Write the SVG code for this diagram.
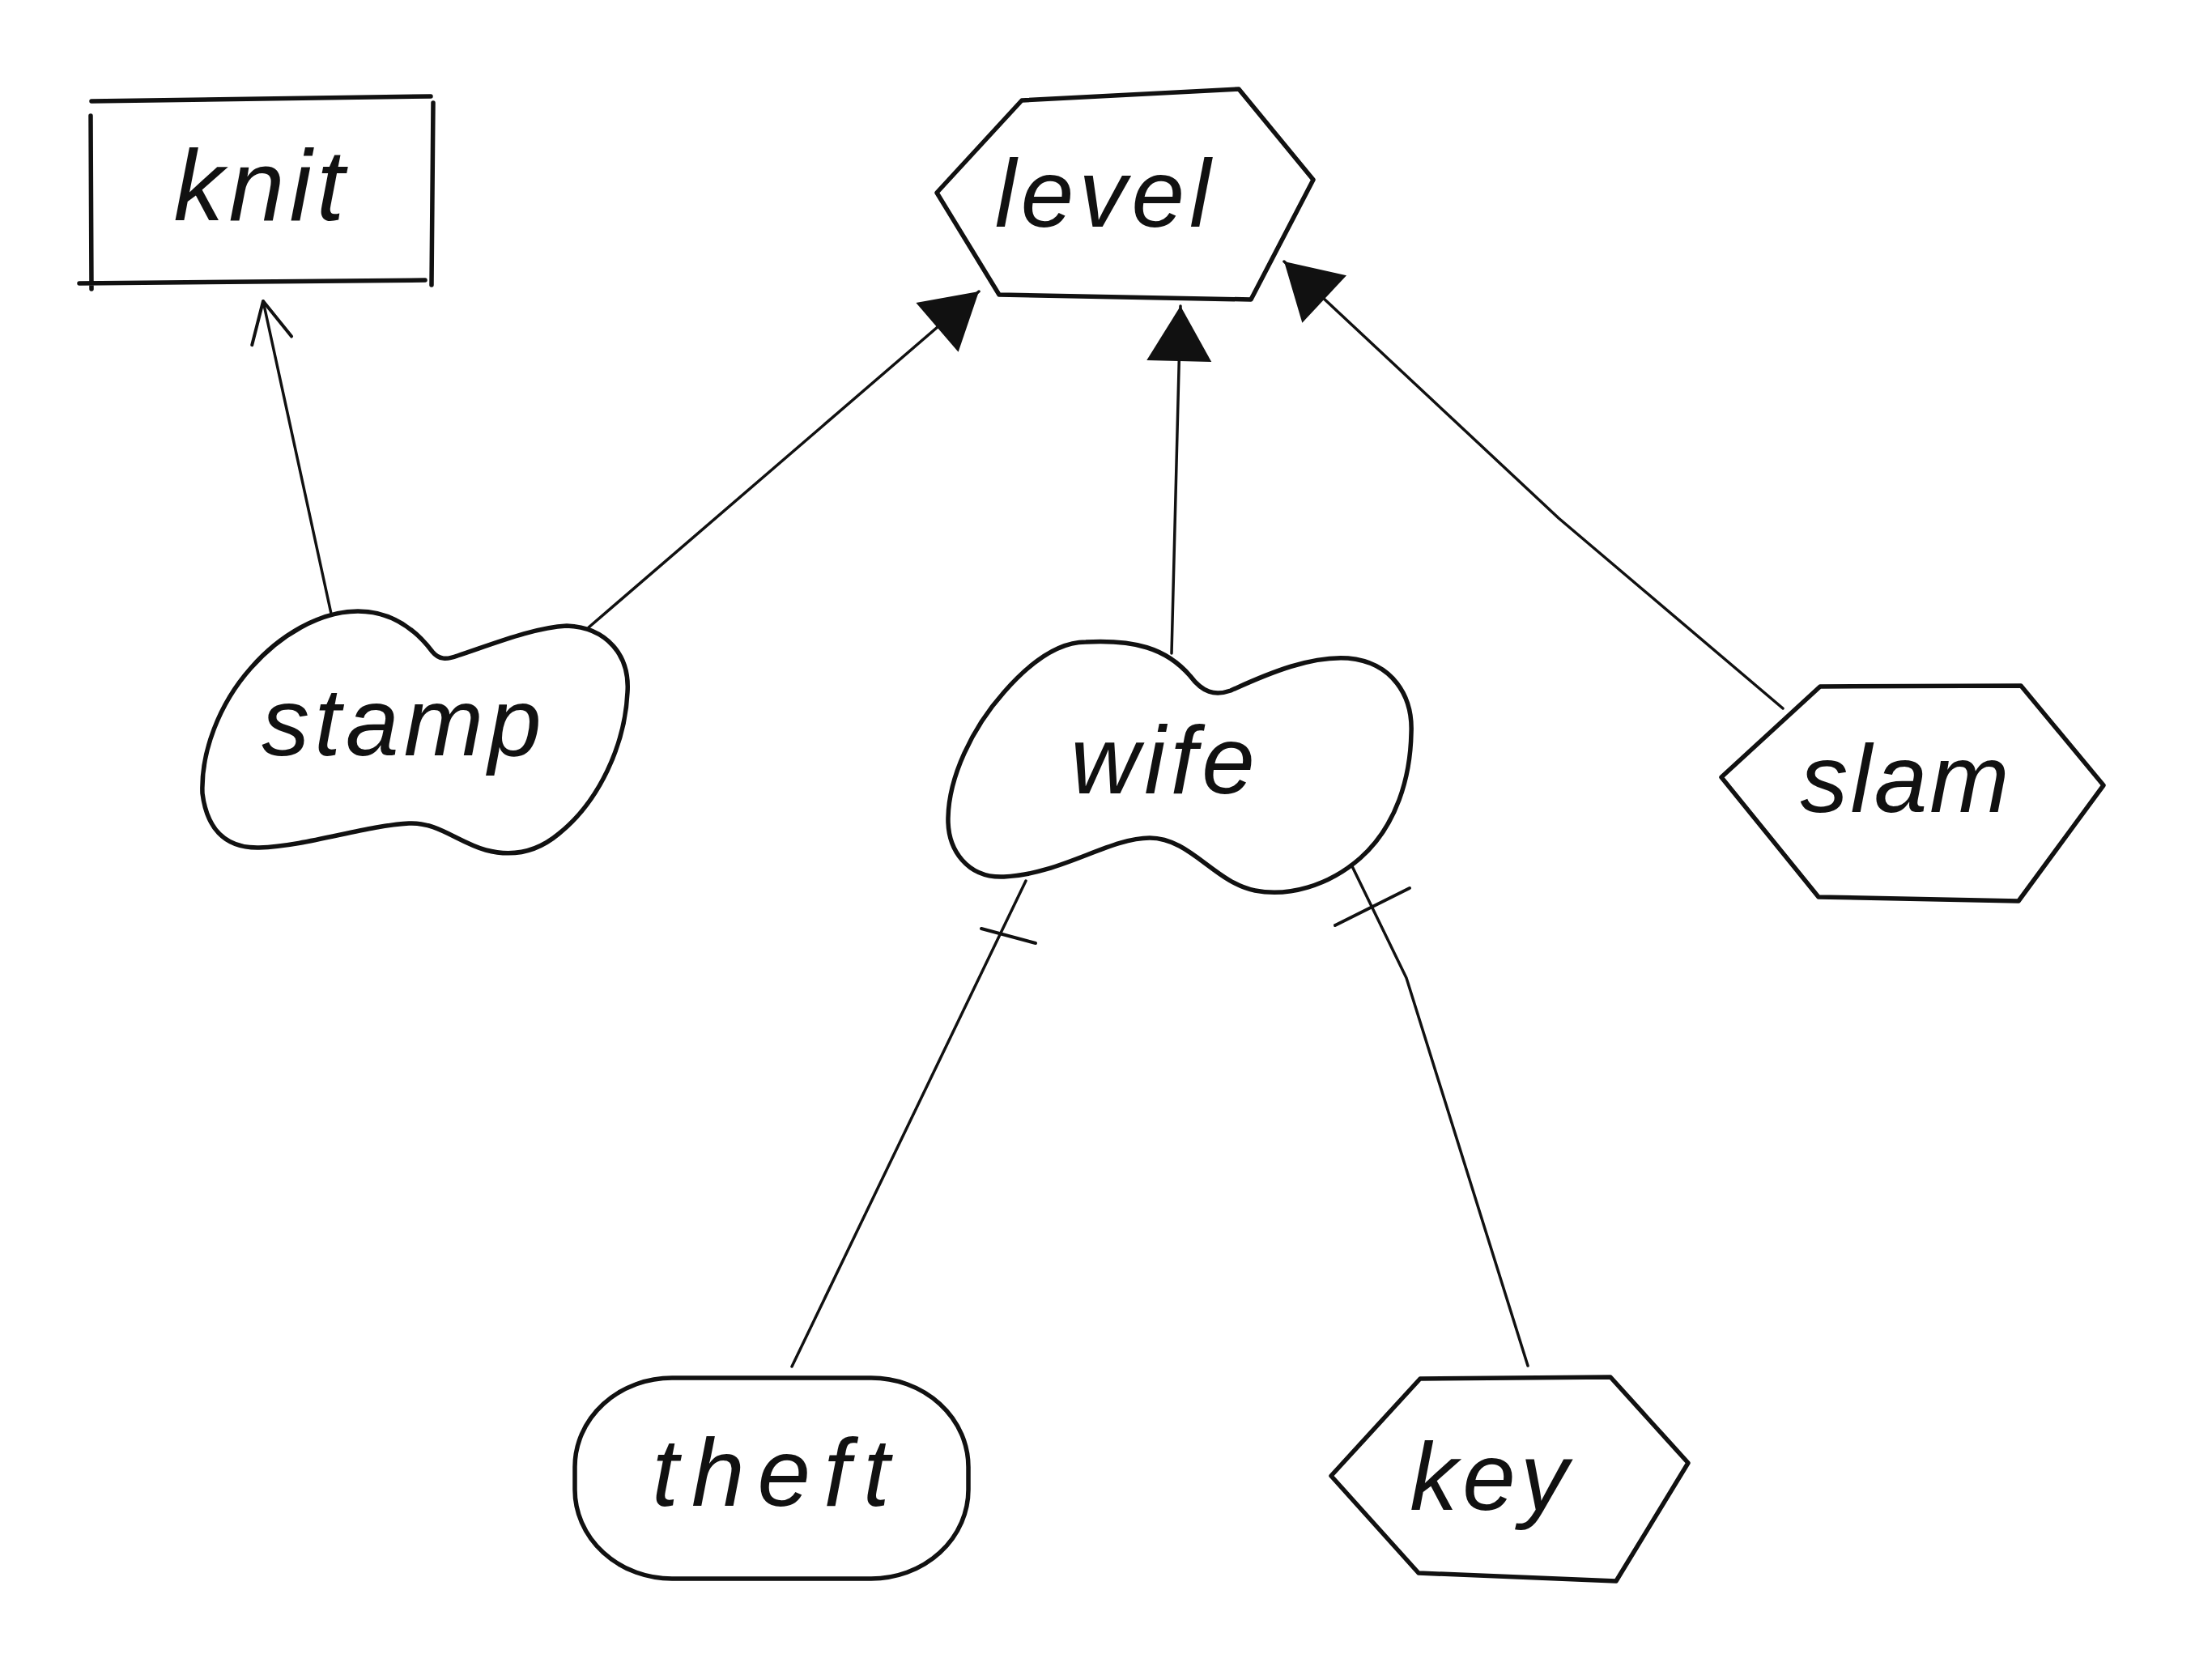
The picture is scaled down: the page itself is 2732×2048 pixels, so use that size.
<svg xmlns="http://www.w3.org/2000/svg" width="2732" height="2048" viewBox="0 0 2732 2048">
<defs>
<style>
.shape{fill:none;stroke:#111;stroke-width:5.5;stroke-linejoin:round;stroke-linecap:round}
.edge{fill:none;stroke:#111;stroke-width:3.5;stroke-linecap:round;stroke-linejoin:round}
.tick{fill:none;stroke:#111;stroke-width:4;stroke-linecap:round}
.lbl{font-family:"Liberation Sans","DejaVu Sans",sans-serif;font-style:italic;font-size:118px;fill:#111;text-anchor:middle;letter-spacing:6px}
</style>
<marker id="tri" markerUnits="userSpaceOnUse" markerWidth="80" markerHeight="90" refX="68" refY="40" orient="auto" overflow="visible">
<path d="M0,0 L68,40 L0,80 Z" fill="#111"/>
</marker>
<marker id="open" markerUnits="userSpaceOnUse" markerWidth="60" markerHeight="60" refX="55" refY="30" orient="auto" overflow="visible">
<path d="M5,5 L55,30 L5,55" fill="none" stroke="#111" stroke-width="4" stroke-linecap="round" stroke-linejoin="round"/>
</marker>
</defs>
<rect width="2732" height="2048" fill="#fff"/>
<g id="connectors">
<path class="edge" d="M409,758 L325,372" marker-end="url(#open)"/>
<path class="edge" d="M727,775 L1209,360" marker-end="url(#tri)"/>
<path class="edge" d="M1447,807 L1458,378" marker-end="url(#tri)"/>
<path class="edge" d="M2202,875 L1925,640 L1586,323" marker-end="url(#tri)"/>
<path class="edge" d="M1267,1088 L978,1688"/>
<path class="tick" d="M1212,1147 L1279,1165"/>
<path class="edge" d="M1669,1068 L1737,1208 L1887,1687"/>
<path class="tick" d="M1649,1143 L1741,1097"/>
</g>
<g id="knit">
<path class="shape" d="M113,125 L532,119 M535,127 L533,352 M98,350 L525,346 M112,143 L113,357"/>
<text class="lbl" x="323" y="272" style="font-size:124px">knit</text>
</g>
<g id="level">
<polygon class="shape" points="1262,124 1530,110 1622,222 1545,370 1234,364 1157,238"/>
<text class="lbl" x="1365" y="280">level</text>
</g>
<g id="stamp">
<path class="shape" d="M442,755 C485,755 515,780 534,805 C542,815 552,815 565,810 C610,795 660,775 700,773 C750,775 778,810 775,855 C772,920 740,990 690,1030 C660,1055 630,1058 600,1050 C565,1040 540,1015 505,1017 C450,1020 380,1045 320,1047 C275,1048 255,1020 250,980 C248,930 270,870 310,825 C345,785 395,755 442,755 Z"/>
<text class="lbl" x="499" y="933">stamp</text>
</g>
<g id="wife">
<path class="shape" d="M1341,793 C1400,790 1440,800 1470,835 C1485,855 1500,860 1520,853 C1570,830 1620,810 1665,813 C1720,818 1745,860 1743,905 C1742,960 1725,1020 1680,1060 C1640,1095 1590,1108 1550,1100 C1500,1090 1470,1035 1420,1035 C1370,1035 1310,1080 1240,1083 C1195,1085 1170,1050 1171,1010 C1172,960 1200,900 1240,855 C1275,815 1310,793 1341,793 Z"/>
<text class="lbl" x="1439" y="980">wife</text>
</g>
<g id="slam">
<polygon class="shape" points="2248,848 2496,847 2598,970 2493,1113 2246,1108 2126,960"/>
<text class="lbl" x="2354" y="1003" style="letter-spacing:3px">slam</text>
</g>
<g id="theft">
<rect class="shape" x="710" y="1702" width="486" height="248" rx="120" ry="110"/>
<text class="lbl" x="960" y="1860" style="letter-spacing:16px">theft</text>
</g>
<g id="key">
<polygon class="shape" points="1754,1703 1989,1701 2085,1807 1996,1953 1752,1943 1644,1823"/>
<text class="lbl" x="1842" y="1865">key</text>
</g>
</svg>
